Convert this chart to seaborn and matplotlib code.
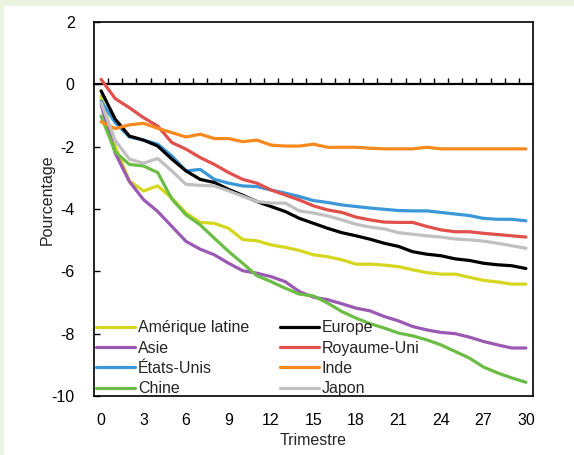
import numpy as np
import pandas as pd
import matplotlib
matplotlib.use("Agg")
import matplotlib.pyplot as plt
import seaborn as sns

# Quarters after the shock
quarters = list(range(31))

amerique_latine = [-0.38, -2.00, -3.10, -3.42, -3.26, -3.65, -4.13, -4.43, -4.46, -4.62,
                   -4.98, -5.02, -5.15, -5.23, -5.33, -5.47, -5.53, -5.63, -5.77, -5.77,
                   -5.80, -5.85, -5.95, -6.04, -6.09, -6.09, -6.19, -6.29, -6.34, -6.41, -6.41]
asie = [-0.65, -2.21, -3.12, -3.70, -4.08, -4.56, -5.04, -5.29, -5.47, -5.74,
        -5.98, -6.06, -6.17, -6.33, -6.65, -6.83, -6.91, -7.04, -7.18, -7.27,
        -7.45, -7.59, -7.77, -7.88, -7.96, -8.00, -8.11, -8.25, -8.36, -8.46, -8.46]
etats_unis = [-0.54, -1.23, -1.69, -1.79, -1.92, -2.30, -2.78, -2.73, -3.05, -3.17,
              -3.26, -3.28, -3.39, -3.49, -3.60, -3.73, -3.79, -3.87, -3.92, -3.97,
              -4.01, -4.05, -4.06, -4.06, -4.11, -4.16, -4.21, -4.30, -4.33, -4.33, -4.38]
chine = [-1.02, -2.17, -2.57, -2.62, -2.83, -3.68, -4.19, -4.51, -4.94, -5.36,
         -5.74, -6.14, -6.33, -6.54, -6.73, -6.79, -7.02, -7.29, -7.50, -7.68,
         -7.82, -7.98, -8.07, -8.20, -8.36, -8.57, -8.78, -9.07, -9.26, -9.42, -9.56]
europe = [-0.21, -1.12, -1.66, -1.79, -1.98, -2.40, -2.78, -3.05, -3.15, -3.37,
          -3.56, -3.76, -3.92, -4.08, -4.30, -4.46, -4.62, -4.76, -4.86, -4.97,
          -5.10, -5.20, -5.37, -5.45, -5.50, -5.60, -5.65, -5.74, -5.79, -5.82, -5.91]
royaume_uni = [0.16, -0.46, -0.75, -1.07, -1.34, -1.87, -2.08, -2.35, -2.57, -2.83,
               -3.05, -3.17, -3.39, -3.55, -3.71, -3.90, -4.03, -4.11, -4.26, -4.35,
               -4.42, -4.43, -4.43, -4.56, -4.67, -4.73, -4.73, -4.78, -4.82, -4.86, -4.90]
inde = [-1.20, -1.42, -1.30, -1.25, -1.41, -1.55, -1.69, -1.60, -1.74, -1.74,
        -1.84, -1.79, -1.95, -1.98, -1.98, -1.92, -2.02, -2.02, -2.02, -2.05,
        -2.07, -2.07, -2.07, -2.02, -2.07, -2.07, -2.07, -2.07, -2.07, -2.07, -2.07]
japon = [-0.59, -1.80, -2.40, -2.53, -2.38, -2.78, -3.21, -3.24, -3.26, -3.42,
         -3.59, -3.76, -3.81, -3.81, -4.06, -4.13, -4.22, -4.35, -4.49, -4.58,
         -4.64, -4.76, -4.81, -4.86, -4.90, -4.96, -4.99, -5.03, -5.10, -5.18, -5.26]

regions = ["Amérique latine", "Asie", "États-Unis", "Chine",
           "Europe", "Royaume-Uni", "Inde", "Japon"]
series = [amerique_latine, asie, etats_unis, chine,
          europe, royaume_uni, inde, japon]
colors = ["#d5d71e", "#9b59b4", "#3a98d8", "#6cbd45",
          "#000000", "#e1504a", "#f7891f", "#c0c0c0"]

x_tick_values = list(range(0, 31, 3))
y_tick_values = list(range(-10, 3, 2))

df = pd.DataFrame({
    "Trimestre": np.tile(quarters, len(regions)),
    "Valeur": np.concatenate([np.asarray(s) for s in series]),
    "Région": np.repeat(regions, len(quarters)),
})

sns.set_style("white")
plt.rcParams["font.family"] = ["Liberation Sans Narrow", "Liberation Sans", "DejaVu Sans"]
plt.rcParams["font.size"] = 11.5
plt.rcParams["axes.unicode_minus"] = False

FS = 11.5

fig = plt.figure(figsize=(5.74, 4.55), dpi=100)
fig.patch.set_facecolor("#eaf4e0")
# white panel inside the pale green frame
panel = plt.Rectangle((4 / 574, 0), 1, 1 - 6 / 455, transform=fig.transFigure,
                      facecolor="white", edgecolor="none", zorder=-10)
fig.patches.append(panel)

ax = fig.add_axes([94 / 574, 1 - 396 / 455, (533 - 94) / 574, (396 - 22) / 455])
ax.set_facecolor("white")
ax.set_zorder(1)

sns.lineplot(data=df, x="Trimestre", y="Valeur", hue="Région", hue_order=regions,
             palette=dict(zip(regions, colors)), linewidth=2.3, ax=ax, legend=True)

ax.set_xlim(-0.5, 30.5)
ax.set_ylim(-10, 2)
ax.set_xticks(x_tick_values)
ax.set_yticks(y_tick_values)
ax.tick_params(axis="x", length=0, pad=12, labelsize=FS, colors="#000000")
ax.tick_params(axis="y", direction="in", length=4, width=1, pad=14, labelsize=FS,
               left=True, colors="#000000")
for side in ["left", "right", "top", "bottom"]:
    ax.spines[side].set_visible(True)
    ax.spines[side].set_color("black")
    ax.spines[side].set_linewidth(1.2)

ax.set_xlabel("Trimestre", fontsize=FS, labelpad=4)
ax.set_ylabel("Pourcentage", fontsize=FS)
ax.yaxis.set_label_coords(-0.09, 0.525)

# horizontal axis line at zero with tick marks between quarters
zero_axis = ax.secondary_xaxis(10 / 12)
zero_axis.set_xticks(np.arange(0.5, 30, 1))
zero_axis.tick_params(direction="out", length=4, width=1, labeltop=False,
                      labelbottom=False, colors="black")
for sp in zero_axis.spines.values():
    sp.set_linewidth(1.6)
    sp.set_color("black")

handles, labels = ax.get_legend_handles_labels()
ax.legend(handles, labels, ncol=2, frameon=False, loc="lower left",
          bbox_to_anchor=(0.0, -0.005), borderaxespad=0.0, borderpad=0.1,
          handlelength=2.45, handletextpad=0.2, labelspacing=0.33,
          columnspacing=1.9, fontsize=FS)

fig.savefig("out.png", dpi=100, facecolor=fig.get_facecolor())
